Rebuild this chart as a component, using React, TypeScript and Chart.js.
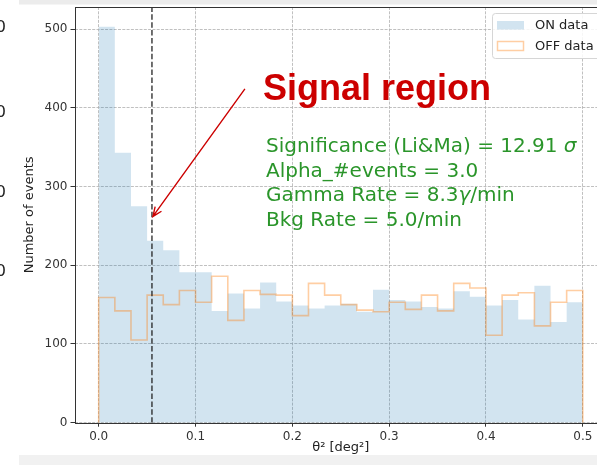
import { useEffect, useRef } from "react";
import { Chart, registerables } from "chart.js";

Chart.register(...registerables);

// ---------- data ----------
const N_BINS = 30;
const THETA2_MAX = 0.5;
const ON_COUNTS = [503, 343, 275, 231, 219, 191, 191, 142, 164, 145, 178, 154, 149, 145, 149, 151, 141, 169, 156, 154, 147, 145, 167, 160, 149, 156, 131, 174, 128, 153];
const OFF_COUNTS = [159, 142, 105, 162, 150, 168, 153, 186, 130, 168, 163, 162, 136, 177, 162, 150, 143, 141, 153, 144, 162, 142, 177, 171, 111, 162, 165, 123, 153, 168];
const X_TICKS = [0, 0.1, 0.2, 0.3, 0.4, 0.5];
const X_TICK_LABELS = ["0.0", "0.1", "0.2", "0.3", "0.4", "0.5"];
const Y_TICKS = [0, 100, 200, 300, 400, 500];
const Y_TICK_LABELS = ["0", "100", "200", "300", "400", "500"];
const X_MIN = -0.025;
const X_MAX = 0.525;
const Y_MIN = 0;
const Y_MAX = 528;
const SIGNAL_CUT = 0.055;
const ARROW_TAIL = { x: 0.151, y: 424 };
const ARROW_TIP = { x: 0.056, y: 262 };
const LEGEND_LABELS = ["ON data", "OFF data"];
const X_TITLE = "θ² [deg²]";
const Y_TITLE = "Number of events";
const ANNOT_TITLE = "Signal region";
const STATS_LINES = [
  [{ t: "Significance (Li&Ma) = 12.91 ", i: false }, { t: "σ", i: true }],
  [{ t: "Alpha_#events = 3.0", i: false }],
  [{ t: "Gamma Rate = 8.3", i: false }, { t: "γ", i: true }, { t: "/min", i: false }],
  [{ t: "Bkg Rate = 5.0/min", i: false }],
];
const BG_TICK_LABELS = ["0", "0", "0", "0"];

// ---------- styles ----------
const ON_COLOR = "rgba(31,119,180,0.2)";
const OFF_COLOR = "rgba(255,127,14,0.38)";
const GRID_COLOR = "#b0b0b0";
const FONT = '"DejaVu Sans", sans-serif';

const EDGES = Array.from({ length: N_BINS + 1 }, (_, i) => (i * THETA2_MAX) / N_BINS);

function stepPoints(counts: number[], closed: boolean) {
  const pts = counts.map((c, i) => ({ x: EDGES[i], y: c }));
  pts.push({ x: EDGES[N_BINS], y: counts[N_BINS - 1] });
  if (closed) {
    pts.unshift({ x: EDGES[0], y: 0 });
    pts.push({ x: EDGES[N_BINS], y: 0 });
  }
  return pts;
}

const overlayPlugin = {
  id: "overlay",
  beforeDraw(chart: any) {
    const ctx = chart.ctx;
    ctx.save();
    ctx.fillStyle = "#ffffff";
    ctx.fillRect(0, 0, chart.width, chart.height);
    // screenshot frame strips
    ctx.fillStyle = "#ececec";
    ctx.fillRect(19, 0, chart.width, 4.5);
    ctx.fillStyle = "#f1f1f1";
    ctx.fillRect(19, 455, chart.width, 10);
    // partial labels of a neighbouring figure
    ctx.fillStyle = "#222";
    ctx.font = '16px "DejaVu Sans"';
    ctx.textAlign = "right";
    ctx.textBaseline = "middle";
    const ys = [28, 113, 193, 272];
    BG_TICK_LABELS.forEach((t, i) => ctx.fillText(t, 6, ys[i]));
    ctx.restore();
  },
  afterDraw(chart: any) {
    const ctx = chart.ctx;
    const a = chart.chartArea;
    const xs = chart.scales.x;
    const ys = chart.scales.y;
    ctx.save();
    // spines
    ctx.strokeStyle = "#333";
    ctx.lineWidth = 1;
    ctx.setLineDash([]);
    ctx.strokeRect(Math.round(a.left) + 0.5, Math.round(a.top) + 0.5, a.right - a.left, Math.round(a.bottom) - Math.round(a.top));

    // arrow
    const x0 = xs.getPixelForValue(ARROW_TAIL.x);
    const y0 = ys.getPixelForValue(ARROW_TAIL.y);
    const x1 = xs.getPixelForValue(ARROW_TIP.x);
    const y1 = ys.getPixelForValue(ARROW_TIP.y);
    ctx.strokeStyle = "#cc0000";
    ctx.lineWidth = 1.4;
    ctx.beginPath();
    ctx.moveTo(x0, y0);
    ctx.lineTo(x1, y1);
    const ang = Math.atan2(y0 - y1, x0 - x1);
    const hl = 10;
    ctx.moveTo(x1 + hl * Math.cos(ang + 0.4), y1 + hl * Math.sin(ang + 0.4));
    ctx.lineTo(x1, y1);
    ctx.lineTo(x1 + hl * Math.cos(ang - 0.4), y1 + hl * Math.sin(ang - 0.4));
    ctx.stroke();

    // title annotation
    ctx.fillStyle = "#cc0000";
    ctx.font = 'bold 36px "Liberation Sans", Arial, sans-serif';
    ctx.textAlign = "left";
    ctx.textBaseline = "alphabetic";
    ctx.fillText(ANNOT_TITLE, 263, 100);

    // stats text
    ctx.fillStyle = "#2a952a";
    const baselines = [152, 176.5, 201, 225.5];
    STATS_LINES.forEach((line, li) => {
      let x = 266;
      line.forEach((seg) => {
        ctx.font = (seg.i ? "italic " : "") + "20px " + FONT;
        ctx.fillText(seg.t, x, baselines[li]);
        x += ctx.measureText(seg.t).width;
      });
    });

    // legend
    const lx = 492.5, ly = 13.5, lw = 130, lh = 45;
    ctx.beginPath();
    const r = 3;
    ctx.moveTo(lx + r, ly);
    ctx.lineTo(lx + lw, ly);
    ctx.lineTo(lx + lw, ly + lh);
    ctx.lineTo(lx + r, ly + lh);
    ctx.arcTo(lx, ly + lh, lx, ly + lh - r, r);
    ctx.lineTo(lx, ly + r);
    ctx.arcTo(lx, ly, lx + r, ly, r);
    ctx.closePath();
    ctx.fillStyle = "rgba(255,255,255,0.85)";
    ctx.fill();
    ctx.strokeStyle = "#d6d6d6";
    ctx.lineWidth = 1;
    ctx.stroke();
    ctx.fillStyle = ON_COLOR;
    ctx.fillRect(497, 21, 27, 8.5);
    ctx.strokeStyle = OFF_COLOR;
    ctx.lineWidth = 1.5;
    ctx.strokeRect(497.5, 41.5, 26, 9);
    ctx.fillStyle = "#222";
    ctx.font = "13px " + FONT;
    ctx.textBaseline = "middle";
    ctx.fillText(LEGEND_LABELS[0], 535, 25.5);
    ctx.fillText(LEGEND_LABELS[1], 535, 46.5);
    ctx.restore();
  },
};

export default function App() {
  const ref = useRef<HTMLCanvasElement | null>(null);
  useEffect(() => {
    if (!ref.current) return;
    const tickFont = { family: FONT, size: 12 };
    const gridOpts = {
      color: GRID_COLOR,
      lineWidth: 0.8,
      drawTicks: true,
      tickLength: 4,
      tickColor: "#333",
      tickWidth: 1,
      tickBorderDash: [],
    };
    const chart = new Chart(ref.current, {
      type: "line",
      data: {
        datasets: [
          {
            label: "cut",
            data: [
              { x: SIGNAL_CUT, y: Y_MIN },
              { x: SIGNAL_CUT, y: Y_MAX },
            ],
            borderColor: "rgba(30,30,30,0.85)",
            borderWidth: 1.5,
            borderDash: [5.5, 2.4],
            pointRadius: 0,
            fill: false,
            order: 1,
          },
          {
            label: LEGEND_LABELS[1],
            data: stepPoints(OFF_COUNTS, true),
            stepped: "before",
            borderColor: OFF_COLOR,
            borderWidth: 1.6,
            pointRadius: 0,
            fill: false,
            order: 2,
          },
          {
            label: LEGEND_LABELS[0],
            data: stepPoints(ON_COUNTS, false),
            stepped: "before",
            borderColor: "transparent",
            borderWidth: 0,
            backgroundColor: ON_COLOR,
            pointRadius: 0,
            fill: "origin",
            order: 3,
          },
        ],
      },
      options: {
        animation: false,
        responsive: false,
        events: [],
        layout: { padding: { top: 7, right: 5, bottom: 0, left: 0 } },
        plugins: { legend: { display: false }, tooltip: { enabled: false } },
        scales: {
          x: {
            type: "linear",
            min: X_MIN,
            max: X_MAX,
            z: 1,
            afterBuildTicks: (s: any) => {
              s.ticks = X_TICKS.map((v) => ({ value: v }));
            },
            afterFit: (s: any) => {
              s.height = 42.3;
              s.paddingLeft = 0;
              s.paddingRight = 0;
            },
            ticks: {
              font: tickFont,
              color: "#333",
              padding: 3,
              maxRotation: 0,
              autoSkip: false,
              callback: (v: any) => X_TICK_LABELS[X_TICKS.indexOf(v)] ?? "",
            },
            grid: gridOpts,
            border: { display: false, dash: [3, 1.3] },
            title: {
              display: true,
              text: X_TITLE,
              font: { family: FONT, size: 13 },
              color: "#222",
              padding: { top: 0, bottom: 9.2 },
            },
          },
          y: {
            type: "linear",
            min: Y_MIN,
            max: Y_MAX,
            z: 1,
            afterBuildTicks: (s: any) => {
              s.ticks = Y_TICKS.map((v) => ({ value: v }));
            },
            afterFit: (s: any) => {
              s.width = 74.5;
              s.paddingTop = 0;
              s.paddingBottom = 0;
            },
            ticks: {
              font: tickFont,
              color: "#333",
              padding: 3,
              callback: (v: any) => Y_TICK_LABELS[Y_TICKS.indexOf(v)] ?? "",
            },
            grid: gridOpts,
            border: { display: false, dash: [3, 1.3] },
            title: {
              display: true,
              text: Y_TITLE,
              font: { family: FONT, size: 13 },
              color: "#222",
              padding: { top: 22, bottom: 0 },
            },
          },
        },
      },
      plugins: [overlayPlugin],
    } as any);
    return () => chart.destroy();
  }, []);
  return (
    <div style={{ position: "absolute", left: 0, top: 0, width: 597, height: 465, overflow: "hidden", background: "#fff" }}>
      <canvas ref={ref} width={612} height={465} style={{ display: "block" }} />
    </div>
  );
}
